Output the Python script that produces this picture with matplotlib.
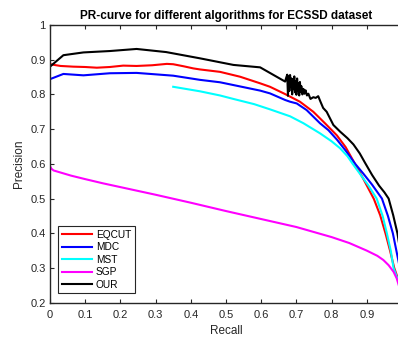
import matplotlib
matplotlib.use("Agg")
from matplotlib import pyplot as plt

plt.rcParams['font.family'] = ['Liberation Sans', 'DejaVu Sans']

# data
eqcut_recall = [0.000, 0.030, 0.066, 0.100, 0.133, 0.170, 0.208, 0.246, 0.290, 0.332, 0.350, 0.380,
                0.407, 0.426, 0.483, 0.540, 0.597, 0.625, 0.668, 0.710, 0.748, 0.781, 0.815, 0.840,
                0.862, 0.890, 0.920, 0.938, 0.953, 0.966, 0.978, 0.990, 1.000]
eqcut_prec = [0.887, 0.882, 0.880, 0.879, 0.877, 0.879, 0.883, 0.882, 0.884, 0.888, 0.887, 0.881,
              0.875, 0.872, 0.865, 0.851, 0.832, 0.822, 0.801, 0.779, 0.750, 0.717, 0.682, 0.648,
              0.608, 0.557, 0.499, 0.452, 0.400, 0.350, 0.300, 0.265, 0.240]

mdc_recall = [0.000, 0.038, 0.095, 0.170, 0.246, 0.350, 0.426, 0.483, 0.521, 0.597, 0.625, 0.668,
              0.682, 0.701, 0.729, 0.767, 0.791, 0.815, 0.840, 0.867, 0.890, 0.915, 0.943, 0.960,
              0.974, 0.984, 0.992, 1.000]
mdc_prec = [0.844, 0.859, 0.855, 0.861, 0.862, 0.854, 0.842, 0.835, 0.827, 0.811, 0.803, 0.784,
            0.779, 0.774, 0.755, 0.717, 0.697, 0.670, 0.638, 0.600, 0.572, 0.540, 0.500, 0.450,
            0.400, 0.350, 0.310, 0.270]

mst_recall = [0.350, 0.426, 0.483, 0.521, 0.580, 0.625, 0.682, 0.720, 0.767, 0.800, 0.824, 0.845,
              0.860, 0.880, 0.905, 0.928, 0.945, 0.957, 0.968, 0.976, 0.985, 0.993, 1.000]
mst_prec = [0.822, 0.809, 0.797, 0.787, 0.772, 0.757, 0.737, 0.717, 0.688, 0.665, 0.645, 0.622,
            0.600, 0.572, 0.537, 0.500, 0.450, 0.400, 0.350, 0.300, 0.275, 0.255, 0.240]

sgp_recall = [0.000, 0.004, 0.010, 0.030, 0.060, 0.100, 0.150, 0.200, 0.300, 0.400, 0.500, 0.600,
              0.700, 0.800, 0.850, 0.900, 0.930, 0.947, 0.962, 0.976, 0.985, 0.990, 1.000]
sgp_prec = [0.593, 0.586, 0.581, 0.575, 0.566, 0.556, 0.544, 0.533, 0.511, 0.488, 0.464, 0.441,
            0.418, 0.389, 0.372, 0.350, 0.335, 0.323, 0.308, 0.289, 0.270, 0.253, 0.220]

our_recall = [0.000, 0.038, 0.095, 0.170, 0.246, 0.330, 0.426, 0.521, 0.597, 0.668,
              0.671, 0.674, 0.676, 0.678, 0.680, 0.682, 0.684, 0.686, 0.688, 0.690, 0.692, 0.694,
              0.696, 0.698, 0.700, 0.702, 0.704, 0.706, 0.708, 0.710, 0.712, 0.714, 0.717, 0.720,
              0.723, 0.726, 0.730, 0.734,
              0.740, 0.748, 0.755, 0.762, 0.768, 0.776, 0.786, 0.805, 0.824, 0.845, 0.862, 0.880,
              0.895, 0.915, 0.935, 0.950, 0.962, 0.975, 0.987, 0.993, 1.000]
our_prec = [0.880, 0.913, 0.921, 0.925, 0.931, 0.922, 0.904, 0.885, 0.878, 0.837,
            0.848, 0.857, 0.796, 0.852, 0.810, 0.856, 0.822, 0.846, 0.800, 0.843, 0.815, 0.852,
            0.806, 0.838, 0.799, 0.846, 0.812, 0.832, 0.797, 0.836, 0.808, 0.824, 0.800, 0.816,
            0.802, 0.812, 0.797, 0.802,
            0.787, 0.792, 0.790, 0.795, 0.780, 0.761, 0.750, 0.712, 0.693, 0.674, 0.656, 0.630,
            0.603, 0.568, 0.537, 0.518, 0.500, 0.452, 0.400, 0.362, 0.330]

x_ticks = [0, 0.1, 0.2, 0.3, 0.4, 0.5, 0.6, 0.7, 0.8, 0.9, 1]
x_labels = ["0", "0.1", "0.2", "0.3", "0.4", "0.5", "0.6", "0.7", "0.8", "0.9", ""]
y_ticks = [0.2, 0.3, 0.4, 0.5, 0.6, 0.7, 0.8, 0.9, 1]
y_labels = ["0.2", "0.3", "0.4", "0.5", "0.6", "0.7", "0.8", "0.9", "1"]

axis_grey = "#262626"

fig = plt.figure(figsize=(3.98, 3.37), dpi=100)
# axes run a little past the right edge, like the cropped original
ax = fig.add_axes([50 / 398, 34.3 / 337, 352 / 398, 277.7 / 337])

ax.plot(eqcut_recall, eqcut_prec, color="red", lw=1.5, label="EQCUT")
ax.plot(mdc_recall, mdc_prec, color="blue", lw=1.5, label="MDC")
ax.plot(mst_recall, mst_prec, color="cyan", lw=1.5, label="MST")
ax.plot(sgp_recall, sgp_prec, color="magenta", lw=1.5, label="SGP")
ax.plot(our_recall, our_prec, color="black", lw=1.5, label="OUR")

ax.set_xlim(0, 1)
ax.set_ylim(0.2, 1)
ax.set_xticks(x_ticks)
ax.set_xticklabels(x_labels)
ax.set_yticks(y_ticks)
ax.set_yticklabels(y_labels)
ax.tick_params(direction="in", top=True, right=True, length=3, width=0.8,
               labelsize=8, colors=axis_grey, pad=3)
ax.tick_params(axis="x", pad=5)
for s in ax.spines.values():
    s.set_color(axis_grey)
    s.set_linewidth(1.0)

ax.set_xlabel("Recall", fontsize=8.5, color=axis_grey, labelpad=4)
ax.set_ylabel("Precision", fontsize=8.5, color=axis_grey, labelpad=4)
ax.set_title("PR-curve for different algorithms for ECSSD dataset",
             fontsize=8.5, fontweight="bold", pad=4)

leg = ax.legend(loc="lower left", bbox_to_anchor=(0.0236, 0.034), borderaxespad=0,
                fontsize=7.3, fancybox=False, framealpha=1, edgecolor=axis_grey,
                handlelength=3.0, handletextpad=0.35, labelspacing=0.25, borderpad=0.35)
leg.get_frame().set_linewidth(0.8)

plt.savefig("out.png", dpi=100)
